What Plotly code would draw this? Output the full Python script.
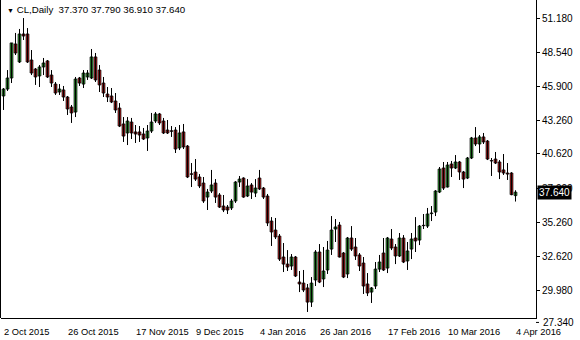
import plotly.graph_objects as go

symbol_title = "CL,Daily"
last_ohlc = [37.370, 37.790, 36.910, 37.640]

opens = [45.13, 45.67, 46.53, 49.18, 47.78, 49.96, 49.96, 47.93, 47.23, 46.69,
         47.39, 47.86, 46.76, 46.06, 45.44, 45.60, 45.05, 44.27, 43.88, 46.53,
         46.06, 46.61, 46.53, 48.17, 47.15, 46.14, 45.28, 45.13, 44.74, 44.19,
         42.95, 42.25, 43.10, 42.33, 42.33, 42.17, 41.86, 42.40, 43.18, 43.73,
         43.18, 42.48, 42.42, 42.48, 41.08, 42.33, 41.23, 39.07, 39.21, 38.82,
         38.35, 37.26, 37.73, 38.35, 37.42, 36.56, 36.48, 36.41, 36.95, 38.43,
         38.74, 37.34, 38.20, 37.57, 38.74, 37.96, 37.34, 35.39, 34.69, 34.22,
         32.59, 32.04, 31.89, 32.59, 30.64, 30.56, 30.18, 29.08, 30.80, 32.98,
         30.88, 31.58, 33.21, 34.77, 35.08, 32.90, 31.27, 34.07, 33.37, 32.75,
         32.12, 30.49, 29.86, 30.33, 31.65, 32.90, 31.73, 33.99, 33.37, 32.67,
         34.07, 32.28, 33.21, 34.07, 33.91, 35.06, 35.00, 35.97, 36.09, 37.65,
         39.52, 38.04, 39.83, 39.52, 39.99, 39.21, 38.74, 40.30, 41.86, 41.39,
         41.94, 41.62, 40.10, 40.22, 39.99, 39.37, 39.13, 39.13, 37.37]

highs = [45.75, 47.15, 49.26, 50.04, 50.35, 51.20, 50.42, 48.71, 47.31, 47.54,
         48.09, 47.93, 47.15, 46.22, 46.06, 45.91, 45.13, 44.43, 46.61, 46.61,
         47.15, 47.15, 48.79, 48.48, 47.54, 46.61, 45.83, 45.75, 45.36, 44.58,
         43.49, 43.49, 43.42, 42.87, 42.79, 42.64, 42.87, 43.81, 43.88, 43.81,
         43.42, 43.26, 42.79, 42.71, 42.87, 42.95, 41.31, 39.91, 40.22, 39.05,
         38.82, 37.89, 39.37, 38.66, 37.57, 37.42, 36.64, 37.11, 38.50, 38.90,
         38.80, 38.66, 38.35, 38.66, 39.37, 38.04, 37.50, 35.70, 35.63, 34.38,
         33.68, 33.13, 32.82, 32.67, 31.50, 31.58, 30.49, 31.03, 33.13, 33.60,
         33.37, 33.84, 35.78, 35.55, 35.32, 32.98, 34.15, 35.00, 34.07, 32.90,
         32.59, 31.34, 30.25, 32.20, 32.75, 34.07, 34.15, 34.77, 33.60, 34.46,
         34.30, 33.76, 34.46, 35.70, 35.08, 35.94, 36.41, 36.56, 37.80, 39.60,
         39.99, 39.99, 40.07, 40.53, 40.07, 39.29, 40.38, 41.94, 42.71, 42.09,
         42.25, 41.70, 40.30, 40.77, 40.14, 40.61, 39.91, 39.20, 37.79]

lows = [44.04, 45.52, 46.14, 48.32, 47.70, 49.49, 47.70, 46.76, 45.99, 45.83,
        46.76, 46.53, 45.83, 45.21, 45.21, 44.74, 43.65, 43.03, 43.49, 45.91,
        45.75, 46.38, 46.45, 46.22, 45.44, 45.05, 44.66, 44.58, 43.81, 42.71,
        41.55, 41.31, 41.78, 41.47, 41.55, 41.70, 40.85, 42.25, 43.03, 42.87,
        42.17, 42.17, 41.94, 40.69, 40.92, 41.00, 38.74, 38.04, 38.51, 37.96,
        36.80, 36.25, 37.57, 36.80, 36.41, 36.09, 35.94, 36.25, 36.80, 38.04,
        37.20, 37.26, 37.11, 37.26, 37.81, 37.11, 35.00, 33.45, 33.99, 32.28,
        31.42, 31.50, 31.58, 31.03, 29.86, 29.86, 28.31, 28.70, 30.33, 30.56,
        30.25, 31.27, 32.75, 33.76, 32.55, 30.95, 30.95, 33.06, 32.36, 31.50,
        29.71, 29.55, 29.01, 30.10, 31.42, 31.50, 31.34, 33.13, 32.04, 32.59,
        32.12, 31.58, 32.43, 32.98, 33.52, 34.77, 34.85, 35.39, 35.78, 37.57,
        37.81, 38.00, 38.82, 39.44, 38.59, 37.96, 38.66, 40.22, 41.23, 40.69,
        41.39, 40.14, 38.90, 39.83, 38.66, 38.98, 38.59, 37.40, 36.91]

closes = [45.67, 46.53, 49.26, 48.48, 49.96, 49.80, 47.78, 46.92, 46.61, 47.39,
          47.70, 46.61, 46.14, 45.36, 45.67, 45.05, 44.12, 43.81, 46.45, 46.14,
          46.92, 46.92, 48.17, 46.38, 45.99, 45.36, 45.05, 44.66, 44.04, 42.79,
          42.01, 43.18, 42.25, 42.17, 42.09, 41.78, 42.40, 43.10, 43.73, 43.03,
          42.25, 42.25, 42.38, 41.00, 42.25, 41.16, 38.82, 39.03, 38.66, 38.12,
          36.95, 37.65, 38.20, 37.26, 36.48, 36.25, 36.25, 36.95, 38.43, 38.66,
          37.26, 38.12, 37.65, 37.96, 37.89, 37.26, 35.24, 34.54, 34.15, 32.43,
          32.04, 31.81, 32.59, 31.11, 30.49, 30.02, 29.08, 30.56, 32.98, 30.64,
          31.50, 33.13, 34.69, 34.93, 32.59, 31.03, 34.07, 33.21, 32.67, 31.89,
          30.33, 29.79, 30.18, 31.65, 32.20, 31.58, 34.07, 33.29, 32.67, 34.07,
          32.20, 33.06, 33.99, 33.84, 35.00, 35.03, 35.94, 36.02, 37.73, 39.44,
          37.96, 39.75, 39.52, 39.99, 39.21, 38.66, 40.30, 41.86, 41.39, 41.94,
          41.55, 40.22, 40.07, 39.91, 39.21, 39.13, 39.05, 37.45, 37.64]

date_labels = ["2 Oct 2015", "26 Oct 2015", "17 Nov 2015", "9 Dec 2015", "4 Jan 2016",
               "26 Jan 2016", "17 Feb 2016", "10 Mar 2016", "4 Apr 2016"]
date_label_bars = [0, 16, 33, 48, 64, 79, 96, 111, 128]

price_ticks = [51.18, 48.54, 45.90, 43.26, 40.62, 37.90, 35.26, 32.62, 29.98]
bottom_price_tick = 27.34

UP_FILL = "#2fb82f"
DOWN_FILL = "#d41515"

n = len(closes)
xs = list(range(n))

# wicks
wx, wy = [], []
for i in xs:
    wx += [i, i, None]
    wy += [lows[i], highs[i], None]

up_x, up_base, up_h = [], [], []
dn_x, dn_base, dn_h = [], [], []
for i in xs:
    o, c = opens[i], closes[i]
    h = max(abs(c - o), 0.02)
    if c >= o:
        up_x.append(i); up_base.append(min(o, c)); up_h.append(h)
    else:
        dn_x.append(i); dn_base.append(min(o, c)); dn_h.append(h)

fig = go.Figure()
fig.add_trace(go.Scatter(x=wx, y=wy, mode="lines", line=dict(color="black", width=1),
                         hoverinfo="skip", showlegend=False))
fig.add_trace(go.Bar(x=up_x, y=up_h, base=up_base, width=0.7,
                     marker=dict(color=UP_FILL, line=dict(color="black", width=0.8)),
                     showlegend=False))
fig.add_trace(go.Bar(x=dn_x, y=dn_h, base=dn_base, width=0.7,
                     marker=dict(color=DOWN_FILL, line=dict(color="black", width=0.8)),
                     showlegend=False))

W, H = 580, 340
ml, mr, mt, mb = 1, 44, 0, 22
plot_w = W - ml - mr
plot_h = H - mt - mb
px_per_bar = 4
x0 = -0.625
x1 = x0 + plot_w / px_per_bar

# price scale: 51.18 at y=18.3px, 2.64 per 33.9px
ppp = 2.64 / 33.9
y_top = 51.18 + 18.3 * ppp
y_bot = y_top - plot_h * ppp

fig.update_layout(
    width=W, height=H,
    margin=dict(l=ml, r=mr, t=mt, b=mb, pad=0),
    paper_bgcolor="white", plot_bgcolor="white",
    barmode="overlay",
    font=dict(family="Liberation Sans", size=10, color="black"),
    xaxis=dict(range=[x0, x1], tickvals=date_label_bars, ticktext=date_labels,
               ticks="", showgrid=False, zeroline=False, showline=True,
               linecolor="black", linewidth=1, ticklabelposition="outside right",
               tickangle=0, tickfont=dict(size=9.3), ticklabelstandoff=5,
               fixedrange=True),
    yaxis=dict(range=[y_bot, y_top], side="right", tickvals=price_ticks,
               ticktext=[f"{v:.3f}" for v in price_ticks],
               ticks="outside", ticklen=3, tickcolor="black", tickwidth=1,
               showgrid=False, zeroline=False, showline=True, linecolor="black",
               linewidth=1, fixedrange=True),
    showlegend=False,
)

# left frame line
fig.add_shape(type="line", xref="paper", yref="paper", x0=-0.5 / plot_w, x1=-0.5 / plot_w,
              y0=0, y1=1, line=dict(color="black", width=1))

# bottom price label (below the frame)
yb = (bottom_price_tick - y_bot) / (y_top - y_bot)
fig.add_shape(type="line", xref="paper", yref="paper", x0=1, x1=1 + 3 / plot_w,
              y0=yb + 2 / plot_h, y1=yb + 2 / plot_h, line=dict(color="black", width=1))
fig.add_annotation(xref="paper", yref="paper", x=1, y=yb, xanchor="left", yanchor="middle",
                   xshift=5, yshift=2, text=f"{bottom_price_tick:.3f}", showarrow=False,
                   font=dict(size=10, color="black"))

# current price tag
fig.add_annotation(xref="paper", yref="y", x=1, y=last_ohlc[3], xanchor="left",
                   yanchor="middle", xshift=1, text=f"{last_ohlc[3]:.3f}", showarrow=False,
                   bgcolor="black", font=dict(size=10, color="white"), borderpad=1)

# header
header = (f"<span style='font-size:7px'>▼</span> {symbol_title}  "
          + " ".join(f"{v:.3f}" for v in last_ohlc))
fig.add_annotation(xref="paper", yref="paper", x=0, y=1, xanchor="left", yanchor="top",
                   xshift=4, yshift=-2, text=header, showarrow=False,
                   font=dict(size=9.7, color="black"))

fig.write_html("out.html")
